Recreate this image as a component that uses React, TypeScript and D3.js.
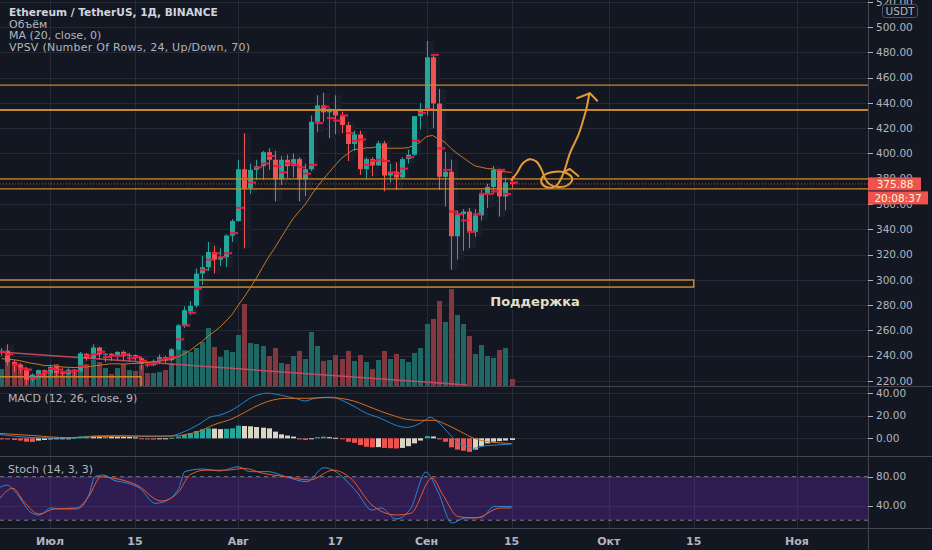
import React from 'react';
import * as d3 from 'd3';

// daily candles, first one is 2020-06-23
const START = Date.UTC(2020, 5, 23);
const DAY = 864e5;

const opens = [
  243, 244, 235, 233, 229, 221, 225, 228.5, 226, 231, 226.5, 225.5, 229, 227.5, 241.5, 238, 246.5, 241, 241.5, 239.5,
  243, 239.5, 240.5, 238, 233.5, 232.5, 235.5, 239, 236.5, 245, 264, 275, 279.5, 305, 310, 322, 316, 318, 335, 346.5,
  387.5, 372.5, 387, 390, 401, 395, 379.5, 395, 390, 395.5, 379.5, 387.5, 425, 438, 432.5, 434, 430, 422.5, 407.5, 415,
  387.5, 395.5, 390.5, 408, 382.5, 385.5, 381, 395.5, 399, 429.5, 434, 476, 439.5, 381.5, 385.5, 334.5, 352, 354, 338, 351,
  368, 373.5, 387, 366, 377,
];
const highs = [
  246, 249, 237, 234, 231, 226, 229, 229, 233, 232, 230, 230, 229.5, 243, 242, 249, 247, 242, 242, 243.5,
  244, 242, 241, 239, 235, 237, 241, 240, 246, 265, 279, 283, 309, 319, 330, 327, 325, 336, 348, 395,
  416, 392, 395, 402, 404, 402, 398, 399, 400, 397, 392, 430, 446, 448, 436, 446, 433, 425, 418, 418,
  397, 397, 410, 410, 392, 393, 397, 403, 429, 440, 489, 478, 451, 401, 395, 355, 356, 357, 356, 371,
  376, 390, 388, 381, 382,
];
const lows = [
  240, 232, 227, 226, 217, 219, 222, 223, 224, 224, 224, 225, 224, 227, 236, 237, 237, 235, 236, 236,
  236, 235, 236, 229, 231, 232, 234, 234, 235, 244, 262, 272, 278, 296, 307, 305, 311, 310, 330, 346,
  325, 368, 379, 379, 387, 362, 375, 380, 381, 362, 366, 386, 417, 425, 412, 415, 416, 394, 402, 383,
  380, 382, 390, 370, 377, 371, 380, 392, 398, 419, 430, 420, 371, 358, 308, 316, 323, 325, 334, 347,
  357, 368, 350, 355, 372,
];
const closes = [
  244, 235, 233, 229, 221, 225, 228.5, 226, 231, 226.5, 225.5, 229, 227.5, 241.5, 238, 246.5, 241, 241.5, 239.5, 243,
  239.5, 240.5, 238, 233.5, 232.5, 235.5, 239, 236.5, 245, 264, 276, 279.5, 305, 310, 322, 316, 318, 335, 346.5, 387.5,
  372.5, 387, 390, 401, 395, 379.5, 395, 390, 395.5, 379.5, 387.5, 425, 438, 432.5, 434, 430, 422.5, 407.5, 415, 387.5,
  395.5, 390.5, 408, 382.5, 385.5, 381, 395.5, 399, 429.5, 434, 476, 439.5, 381.5, 385.5, 334.5, 353, 354, 338, 351, 368,
  373.5, 387, 366, 377, 375.88,
];
// closes 2020-06-03 .. 2020-06-22, only used for the 20-day MA
const priorCloses = [244, 244, 241, 242, 244, 245, 243, 247, 231, 237, 238, 234, 231, 236, 235, 232, 229, 229, 228, 243];

const volumes = [
  420, 594, 569, 470, 445, 272, 396, 371, 470, 544, 272, 346, 346, 816, 544, 643, 594, 445, 297, 445,
  544, 396, 371, 519, 321, 321, 346, 396, 569, 1014, 890, 841, 940, 1088, 1435, 965, 717, 890, 841, 1262,
  2029, 1064, 1039, 990, 742, 940, 569, 544, 742, 866, 668, 1336, 990, 619, 643, 767, 668, 866, 619, 767,
  594, 420, 643, 866, 668, 792, 668, 594, 816, 940, 1534, 1658, 2103, 1583, 2400, 1757, 1534, 1237, 792, 1014,
  742, 693, 891, 940, 173,
];
// VPSV point of control per day
const pocs = [
  243, 241, 233, 230, 229, 222, 225, 227, 229.5, 229, 227, 227.5, 228, 232, 240, 241, 243, 239, 240, 240,
  241, 238, 239, 236, 233, 234, 237, 238, 239, 253, 264, 274, 293, 308, 316, 321, 318, 321, 337, 357,
  380, 377, 389, 392, 398, 390, 385, 392, 391, 389, 384, 391, 424, 437, 428, 426, 430, 416, 410, 411,
  391, 394, 395, 394, 385, 384, 388, 397, 410, 432, 435, 478, 404, 387, 354, 352, 347, 338, 352, 368,
  368, 370, 387, 368, 377,
];

const macdHist = [
  -1, -1, -1.5, -2, -3, -3.2, -2, -1.5, -1, -0.8, -0.5, -0.3, 0.5, 1.5, 1.8, 1.7, 1.6, 1.6, 1.5, 1.4,
  1.3, 1.2, 0.8, -0.5, -1, -1.1, -0.9, -0.5, 0.5, 1.5, 3, 4.4, 6.5, 8, 8.8, 8.6, 8.1, 8.4, 8.8, 11.2,
  10.9, 10.6, 10, 9.4, 8.8, 5.9, 3.5, 2.4, 1.5, -1, -1.5, -0.5, 1, 1.5, 1, 0.5, -0.5, -3, -4, -6,
  -7.5, -8, -7.8, -8.5, -8.8, -9, -8.5, -7, -4.5, -2, 2, 1.6, -1, -3, -8, -10, -11, -12, -10, -7,
  -4.5, -3, -2.5, -2, -1.5,
];
// [day index, value]
const macdLine = [
  [-0.5, 3.5], [4, 1], [8, 0.2], [12.4, 0.6], [15, 2], [18, 2.4], [21.7, 2], [24.5, 1.5], [27.8, 2], [29.4, 4.4],
  [31, 8], [32.7, 13], [34.3, 18.6], [36, 20.6], [37.6, 24], [39.3, 29.5], [40.9, 35.4], [42.6, 39], [43.7, 40],
  [45.3, 39], [47, 37], [48.6, 35], [50, 33], [51.3, 35], [53, 36.3], [54.6, 36.3], [56.3, 33], [58.5, 27],
  [60.1, 22], [61.8, 19], [63.4, 15.3], [65.1, 11.2], [66.7, 9.7], [68.4, 11.8], [69.8, 16.2], [70.6, 18.6],
  [71.7, 15.3], [73.4, 5.9], [75, -3], [76.7, -7.4], [77.8, -8.8], [79.5, -6.7], [81.7, -5.9], [84, -5],
];
const signalLine = [
  [-0.5, 4.4], [5.2, 2.4], [10.7, 0.6], [16.2, 1.5], [21.7, 2], [27.8, 2], [30.5, 3.5], [32.7, 6.5], [34.9, 11.8],
  [38.2, 17.7], [40.4, 24], [42.6, 30], [44.8, 34], [47, 35.4], [50.3, 35.4], [53.6, 36], [55.8, 35.4], [58, 33],
  [60.1, 28.9], [62.4, 24], [64.6, 20], [66.7, 16.8], [68.9, 15.9], [71.2, 15.9], [73.4, 11.8], [75.6, 5.9],
  [77.8, 0], [80, -3], [82.2, -4.1], [84, -4.7],
];
const stochK = [
  [-0.5, 64], [0.9, 68.5], [2.7, 54.8], [4.7, 31.7], [6.2, 27], [8.2, 37], [9.6, 35.5], [12.4, 35.5], [14.4, 54.8],
  [15.4, 80], [16.9, 82.3], [18.4, 75.5], [20.8, 71], [22.8, 64], [25.3, 43.3], [26.8, 45.5], [29.2, 64], [30.2, 87],
  [33, 90.6], [36, 88], [39, 93.8], [40.9, 87], [43.9, 87], [46.8, 80], [50.3, 73], [53.1, 92.4], [54.6, 89],
  [58.5, 59], [61, 34], [62.5, 37], [65, 21.7], [67.4, 36.4], [69.9, 86.4], [71.9, 59], [74.2, 16], [76.2, 23],
  [79.1, 24], [81.1, 39], [84, 39],
];
const stochD = [
  [-0.5, 47.8], [1.9, 64], [3.7, 45.5], [6.2, 28.5], [8.7, 35.5], [12.4, 36.8], [14.4, 53], [16.4, 80], [18.4, 78],
  [22.3, 68.5], [26.3, 46.5], [29.2, 59.3], [31, 82.3], [33.5, 89], [37, 89], [40, 91.5], [42.9, 85], [46.8, 80],
  [50.8, 75.5], [54.6, 89], [57.5, 78], [61, 41], [65, 27.2], [67.4, 29.5], [70.9, 78], [72.7, 54.8], [75.2, 25],
  [78.1, 23], [82.1, 36.8], [84, 37],
];

const priceTicks = [220, 240, 260, 280, 300, 320, 340, 360, 380, 400, 420, 440, 460, 480, 500, 520];
const macdTicks = [0, 20, 40];
const stochTicks = [40, 80];
const timeTicks = [
  Date.UTC(2020, 6, 1), Date.UTC(2020, 6, 15), Date.UTC(2020, 7, 1), Date.UTC(2020, 7, 17), Date.UTC(2020, 8, 1),
  Date.UTC(2020, 8, 15), Date.UTC(2020, 9, 1), Date.UTC(2020, 9, 15), Date.UTC(2020, 10, 1),
];
const timeLabels = ['Июл', '15', 'Авг', '17', 'Сен', '15', 'Окт', '15', 'Ноя'];

// user drawings
const levels = [454, 434.3, 379.8, 371.9];
const supportZone = { top: 299.9, bottom: 294.3, end: Date.UTC(2020, 9, 15) };
const supportLabel = { text: 'Поддержка', day: 80.5, price: 279 };
const lowZone = { top: 223.4, endDay: 23 };
const vpsvLine = [[-1, 243.2], [76.7, 216.8]];
const sketch = [
  [84.0, 379], [84.85, 384.3], [85.9, 392.4], [87.0, 395.4], [88.1, 393.5], [88.97, 386.9], [89.5, 380.3],
  [90.2, 375.8], [91.65, 373.4], [93.3, 375.0], [94.0, 379.8], [93.0, 384.5], [90.8, 385.3], [89.2, 382.1],
  [88.9, 377.4], [89.7, 373.4], [91.3, 374.2], [92.3, 381.6], [93.0, 390.8], [93.6, 400.1], [95.0, 414.6],
  [95.8, 426.4], [96.4, 437.0], [96.8, 447.6],
];
const sketchHead = [[94.8, 443.7], [96.9, 447.6], [98.1, 441.7]];
const sketchTick = [[92.5, 385.3], [93.6, 387.7], [95.0, 382.1]];
const lastPrice = 375.88;
const timer = '20:08:37';

const UP = '#26a69a';
const DOWN = '#ef5350';
const GRID = '#262a36';
const SEP = '#434651';
const TXT = '#b2b5be';
const FONT = '"DejaVu Sans", sans-serif';

const App: React.FC = () => {
  const W = 932;
  const H = 550;
  const plotR = 868;
  const mainB = 386;
  const macdT = 387;
  const macdB = 456;
  const stochB = 528;

  const day = (i: number) => new Date(START + i * DAY);
  const x = d3.scaleUtc().domain([new Date(Date.UTC(2020, 6, 1)), new Date(Date.UTC(2020, 10, 1))]).range([50, 797]);
  const xi = (i: number) => x(day(i));
  const yP = d3.scaleLinear().domain([220, 500]).range([381, 27]);
  const yV = d3.scaleLinear().domain([0, 2400]).range([mainB, 289]);
  const yM = d3.scaleLinear().domain([0, 40]).range([438.3, 393.1]);
  const yS = d3.scaleLinear().domain([20, 80]).range([520.2, 476.7]);

  const all = [...priorCloses, ...closes];
  const ma = closes.map((_, i) => d3.mean(all.slice(i + priorCloses.length - 19, i + priorCloses.length + 1)) as number);

  const maPath = d3.line<number>().x((_, i) => xi(i)).y(d => yP(d))(ma) || '';
  const ptLine = (sc: d3.ScaleLinear<number, number>) =>
    d3.line<number[]>().x(d => xi(d[0])).y(d => sc(d[1])).curve(d3.curveMonotoneX);
  const sketchPath = d3.line<number[]>().x(d => xi(d[0])).y(d => yP(d[1])).curve(d3.curveCatmullRom.alpha(0.5));
  const straight = d3.line<number[]>().x(d => xi(d[0])).y(d => yP(d[1]));

  const histColor = (v: number, i: number) => {
    const prev = i > 0 ? macdHist[i - 1] : v;
    if (v >= 0) return v >= prev ? UP : '#d9d6c6';
    return v <= prev ? DOWN : '#d9d6c6';
  };

  return (
    <div style={{ position: 'absolute', left: 0, top: 0 }}>
      <svg width={W} height={H} style={{ display: 'block', background: '#131722' }} fontFamily={FONT}>
        <defs>
          <clipPath id="mainClip"><rect x={0} y={0} width={plotR} height={mainB} /></clipPath>
          <clipPath id="macdClip"><rect x={0} y={macdT} width={plotR} height={macdB - macdT} /></clipPath>
          <clipPath id="stochClip"><rect x={0} y={macdB + 1} width={plotR} height={stochB - macdB - 1} /></clipPath>
        </defs>
        <rect x={0} y={0} width={W} height={H} fill="#131722" />

        {/* grid */}
        {timeTicks.map((t, k) => (
          <line key={'vg' + k} x1={Math.round(x(new Date(t))) + 0.5} x2={Math.round(x(new Date(t))) + 0.5} y1={0} y2={stochB} stroke={GRID} />
        ))}
        {priceTicks.map(v => (
          <line key={'pg' + v} x1={0} x2={plotR} y1={Math.round(yP(v)) + 0.5} y2={Math.round(yP(v)) + 0.5} stroke={GRID} />
        ))}
        {macdTicks.map(v => (
          <line key={'mg' + v} x1={0} x2={plotR} y1={Math.round(yM(v)) + 0.5} y2={Math.round(yM(v)) + 0.5} stroke={GRID} />
        ))}
        {stochTicks.map(v => (
          <line key={'sg' + v} x1={0} x2={plotR} y1={Math.round(yS(v)) + 0.5} y2={Math.round(yS(v)) + 0.5} stroke={GRID} />
        ))}

        {/* main pane */}
        <g clipPath="url(#mainClip)">
          {highs.map((h, i) => (
            <rect key={'vp' + i} x={Math.round(xi(i)) - 2} width={9} y={yP(h)} height={yP(lows[i]) - yP(h)} fill="#1a1e2b" />
          ))}
          {volumes.map((v, i) => (
            <rect key={'vol' + i} x={Math.round(xi(i)) - 2} width={5} y={yV(v)} height={mainB - yV(v)}
              fill={closes[i] >= opens[i] ? '#1f6764' : '#83373f'} />
          ))}
          <path d={straight(vpsvLine) || ''} stroke="#d24a62" strokeWidth={1.5} fill="none" opacity={0.9} />
          <path d={`M${xi(-5)},${yP(lowZone.top)}H${xi(lowZone.endDay)}V${mainB + 2}`} stroke="#c8892a" strokeWidth={1.5} fill="none" />
          <rect x={-2} y={yP(supportZone.top)} width={x(new Date(supportZone.end)) + 2} height={yP(supportZone.bottom) - yP(supportZone.top)}
            fill="none" stroke="#c8892a" strokeWidth={1.5} />
          <path d={maPath} stroke="#c87a1e" strokeWidth={1} fill="none" />
          {opens.map((o, i) => {
            const c = closes[i];
            const col = c >= o ? UP : DOWN;
            const cx = Math.round(xi(i));
            const t = yP(Math.max(o, c));
            const b = yP(Math.min(o, c));
            return (
              <g key={'c' + i}>
                <line x1={cx + 0.5} x2={cx + 0.5} y1={yP(highs[i])} y2={yP(lows[i])} stroke={col} />
                <rect x={cx - 2} width={5} y={t} height={Math.max(1, b - t)} fill={col} />
              </g>
            );
          })}
          {pocs.map((p, i) => (
            <line key={'poc' + i} x1={Math.round(xi(i)) - 2} x2={Math.round(xi(i)) + 6} y1={yP(p)} y2={yP(p)} stroke="#f0183f" strokeWidth={2} />
          ))}
          {levels.map((v, k) => (
            <line key={'lv' + k} x1={0} x2={plotR} y1={yP(v)} y2={yP(v)} stroke="#c8892a" strokeWidth={k === 1 ? 2 : 1.2} />
          ))}
          <line x1={0} x2={plotR} y1={yP(lastPrice)} y2={yP(lastPrice)} stroke={DOWN} strokeDasharray="1 2" opacity={0.8} />
          <path d={sketchPath(sketch) || ''} stroke="#e39b35" strokeWidth={2} fill="none" strokeLinecap="round" strokeLinejoin="round" />
          <path d={straight(sketchHead) || ''} stroke="#e39b35" strokeWidth={2} fill="none" strokeLinecap="round" strokeLinejoin="round" />
          <path d={straight(sketchTick) || ''} stroke="#e39b35" strokeWidth={2} fill="none" strokeLinecap="round" strokeLinejoin="round" />
          <text x={xi(supportLabel.day)} y={yP(supportLabel.price)} fontSize={13} fontWeight="bold" fill="#e4e0c8"
            stroke="#131722" strokeWidth={3} paintOrder="stroke">{supportLabel.text}</text>
        </g>

        {/* MACD pane */}
        <g clipPath="url(#macdClip)">
          {macdHist.map((v, i) => (
            <rect key={'h' + i} x={Math.round(xi(i)) - 2} width={5} y={Math.min(yM(v), yM(0))} height={Math.max(1, Math.abs(yM(v) - yM(0)))}
              fill={histColor(v, i)} />
          ))}
          <path d={ptLine(yM)(macdLine as number[][]) || ''} stroke="#2a83c6" strokeWidth={1} fill="none" />
          <path d={ptLine(yM)(signalLine as number[][]) || ''} stroke="#d2701f" strokeWidth={1} fill="none" />
        </g>

        {/* Stoch pane */}
        <g clipPath="url(#stochClip)">
          <rect x={0} y={yS(80)} width={plotR} height={yS(20) - yS(80)} fill="rgba(132,44,225,0.25)" />
          <line x1={0} x2={plotR} y1={yS(80)} y2={yS(80)} stroke="#787b86" strokeDasharray="4 4" />
          <line x1={0} x2={plotR} y1={yS(20)} y2={yS(20)} stroke="#787b86" strokeDasharray="4 4" />
          <path d={ptLine(yS)(stochK as number[][]) || ''} stroke="#2c8ad0" strokeWidth={1} fill="none" />
          <path d={ptLine(yS)(stochD as number[][]) || ''} stroke="#ec5a2c" strokeWidth={1} fill="none" />
        </g>

        {/* separators */}
        <line x1={0} x2={W} y1={mainB + 0.5} y2={mainB + 0.5} stroke={SEP} />
        <line x1={0} x2={W} y1={macdB + 0.5} y2={macdB + 0.5} stroke={SEP} />
        <line x1={0} x2={W} y1={stochB + 0.5} y2={stochB + 0.5} stroke={SEP} />
        <line x1={plotR + 0.5} x2={plotR + 0.5} y1={0} y2={H} stroke={SEP} />

        {/* price axis */}
        {priceTicks.map(v => (
          <g key={'pl' + v}>
            <line x1={plotR} x2={plotR + 5} y1={Math.round(yP(v)) + 0.5} y2={Math.round(yP(v)) + 0.5} stroke={TXT} />
            <text x={plotR + 8} y={yP(v)} dy="0.36em" fontSize={10.5} fill={TXT}>{v.toFixed(2)}</text>
          </g>
        ))}
        {macdTicks.map(v => (
          <g key={'ml' + v}>
            <line x1={plotR} x2={plotR + 5} y1={Math.round(yM(v)) + 0.5} y2={Math.round(yM(v)) + 0.5} stroke={TXT} />
            <text x={plotR + 8} y={yM(v)} dy="0.36em" fontSize={10.5} fill={TXT}>{v.toFixed(2)}</text>
          </g>
        ))}
        {stochTicks.map(v => (
          <g key={'sl' + v}>
            <line x1={plotR} x2={plotR + 5} y1={Math.round(yS(v)) + 0.5} y2={Math.round(yS(v)) + 0.5} stroke={TXT} />
            <text x={plotR + 8} y={yS(v)} dy="0.36em" fontSize={10.5} fill={TXT}>{v.toFixed(2)}</text>
          </g>
        ))}
        <rect x={882.5} y={4.5} width={35} height={13} rx={3} fill="#131722" stroke="#50535e" />
        <text x={900} y={11} dy="0.36em" fontSize={10.5} fill={TXT} textAnchor="middle">USDT</text>

        <rect x={plotR} y={yP(lastPrice) - 6.5} width={53} height={13} fill={DOWN} />
        <text x={plotR + 27} y={yP(lastPrice)} dy="0.36em" fontSize={10.5} fill="#fdf6d2" textAnchor="middle">{lastPrice.toFixed(2)}</text>
        <rect x={plotR} y={yP(lastPrice) + 7.5} width={60} height={13} fill={DOWN} />
        <text x={plotR + 30} y={yP(lastPrice) + 14} dy="0.36em" fontSize={10.5} fill="#fdf6d2" textAnchor="middle">{timer}</text>

        {/* time axis */}
        {timeTicks.map((t, k) => (
          <text key={'tl' + k} x={x(new Date(t))} y={545} fontSize={11} fontWeight="bold" fill={TXT} textAnchor="middle">{timeLabels[k]}</text>
        ))}

        {/* legends */}
        <text x={9} y={16} fontSize={10.6} fontWeight="bold" fill="#d1d4dc">Ethereum / TetherUS, 1Д, BINANCE</text>
        <text x={9} y={27.5} fontSize={11} fill={TXT}>Объём</text>
        <text x={9} y={39} fontSize={11} fill={TXT}>MA (20, close, 0)</text>
        <text x={9} y={50.5} fontSize={11} fill={TXT} textLength={241} lengthAdjust="spacing">VPSV (Number Of Rows, 24, Up/Down, 70)</text>
        <text x={8} y={401.5} fontSize={11} fill={TXT}>MACD (12, 26, close, 9)</text>
        <text x={8} y={473} fontSize={11} fill={TXT}>Stoch (14, 3, 3)</text>
      </svg>
    </div>
  );
};

export default App;
